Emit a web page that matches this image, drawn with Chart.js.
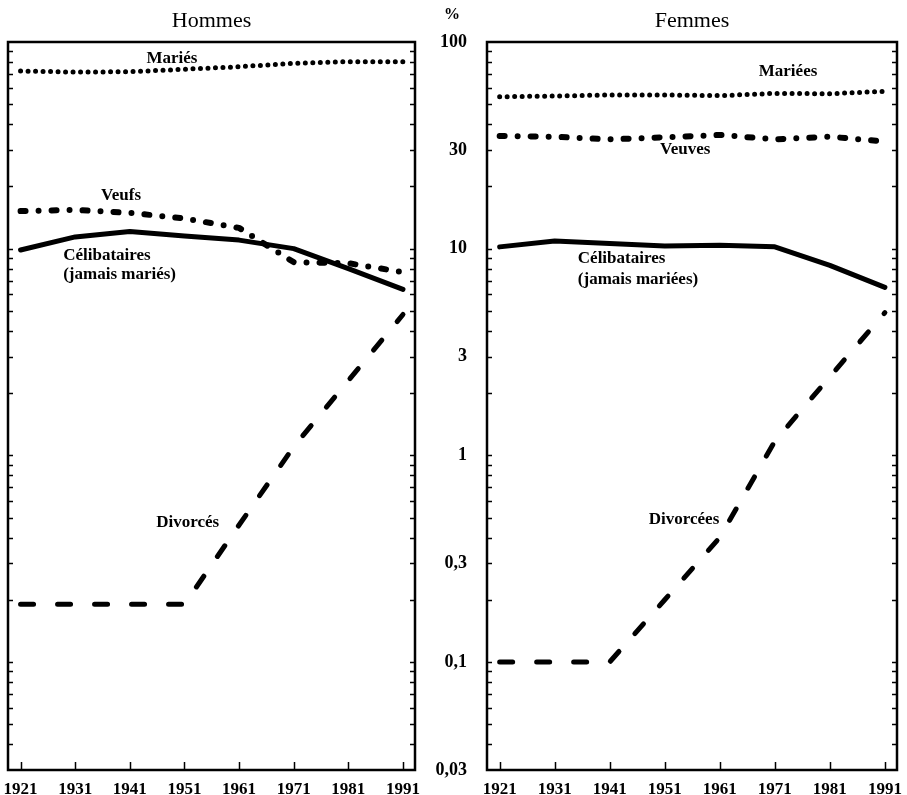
<!DOCTYPE html>
<html>
<head>
<meta charset="utf-8">
<title>Hommes / Femmes</title>
<script src="https://cdn.jsdelivr.net/npm/chart.js@4.4.0/dist/chart.umd.min.js"></script>
<style>
  html, body { margin: 0; padding: 0; background: #fff; }
  #wrap { position: relative; width: 907px; height: 795px; overflow: hidden; }
  #hommes { position: absolute; left: 0; top: 0; }
  #femmes { position: absolute; left: 425px; top: 0; }
</style>
</head>
<body>
<div id="wrap">
  <canvas id="hommes" width="440" height="795"></canvas>
  <canvas id="femmes" width="482" height="795"></canvas>
</div>
<script>
// Census years and the log-scale tick labels (%)
const years = [1921, 1931, 1941, 1951, 1961, 1971, 1981, 1991];
const yTickValues = [0.03, 0.1, 0.3, 1, 3, 10, 30, 100];
const yTickLabels = ['0,03', '0,1', '0,3', '1', '3', '10', '30', '100'];

// Hommes (%)
const hMaries    = [72.4, 71.5, 71.8, 73.8, 75.9, 78.9, 80.3, 80.3];
const hVeufs     = [15.2, 15.4, 14.9, 14.0, 12.6, 8.6, 8.5, 7.7];
const hCelib     = [9.85, 11.4, 12.1, 11.5, 11.0, 10.0, 8.0, 6.35];
const hDivorces  = [0.19, 0.19, 0.19, 0.19, 0.46, 1.1, 2.3, 4.8];

// Femmes (%)
const fMariees   = [54.3, 54.8, 55.4, 55.4, 55.0, 56.4, 56.2, 57.7];
const fVeuves    = [35.1, 34.8, 33.8, 34.6, 35.5, 33.8, 34.8, 33.0];
const fCelib     = [10.2, 10.9, 10.6, 10.3, 10.4, 10.2, 8.3, 6.5];
const fDivorcees = [0.1, 0.1, 0.1, 0.2, 0.40, 1.17, 2.4, 4.9];

const SERIF = "'Liberation Serif', 'Times New Roman', serif";

// line styles: dotted, dash-dot, solid, dashed
const styleMarie   = { borderWidth: 5,   borderDash: [0, 7.5],         borderCapStyle: 'round' };
const styleVeuf    = { borderWidth: 6,   borderDash: [5, 13, 0, 13],   borderCapStyle: 'round' };
const styleCelib   = { borderWidth: 5,   borderDash: [],               borderCapStyle: 'round' };
const styleDivorce = { borderWidth: 5,   borderDash: [13, 24],         borderCapStyle: 'round' };

function series(values, style) {
  return Object.assign({
    data: years.map((yr, i) => ({ x: yr, y: values[i] })),
    borderColor: '#000',
    backgroundColor: '#000',
    borderJoinStyle: 'round',
    pointRadius: 0,
    tension: 0,
    fill: false
  }, style);
}

// minor log ticks drawn inside the frame
const minorTicks = [];
[0.01, 0.1, 1, 10].forEach(d => {
  for (let m = 1; m <= 9; m++) {
    const v = +(d * m).toPrecision(3);
    if (v > 0.03 && v < 100) minorTicks.push(v);
  }
});

const frameAndLabels = {
  id: 'frameAndLabels',
  afterDatasetsDraw(chart, args, opts) {
    const { ctx, chartArea: a, scales: { x, y } } = chart;
    ctx.save();
    ctx.strokeStyle = '#000';
    ctx.lineWidth = 1.5;
    ctx.beginPath();
    minorTicks.forEach(v => {
      const py = Math.round(y.getPixelForValue(v)) + 0.5;
      ctx.moveTo(a.left, py);  ctx.lineTo(a.left + 5, py);
      ctx.moveTo(a.right, py); ctx.lineTo(a.right - 5, py);
    });
    years.forEach(yr => {
      const px = Math.round(x.getPixelForValue(yr)) + 0.5;
      ctx.moveTo(px, a.bottom); ctx.lineTo(px, a.bottom - 8);
    });
    ctx.stroke();
    ctx.lineWidth = 2.5;
    ctx.strokeRect(a.left, a.top, a.right - a.left, a.bottom - a.top);

    ctx.fillStyle = '#000';
    ctx.textBaseline = 'middle';
    (opts.labels || []).forEach(l => {
      ctx.font = 'bold 17px ' + SERIF;
      ctx.textAlign = l.align || 'center';
      ctx.fillText(l.text, x.getPixelForValue(l.year), y.getPixelForValue(l.value));
    });
    if (opts.unit) {
      ctx.font = 'bold 16px ' + SERIF;
      ctx.textAlign = 'center';
      ctx.fillText(opts.unit, a.left - 35, 15);
    }
    ctx.restore();
  }
};

function makeChart(id, title, data, labels, withAxis, padding) {
  return new Chart(document.getElementById(id), {
    type: 'line',
    data: { datasets: data },
    plugins: [frameAndLabels],
    options: {
      responsive: false,
      animation: false,
      devicePixelRatio: 1,
      layout: { padding },
      plugins: {
        legend: { display: false },
        tooltip: { enabled: false },
        title: {
          display: true,
          text: title,
          fullSize: false,
          color: '#000',
          font: { family: SERIF, size: 22, weight: 'normal', lineHeight: 1.2 },
          padding: { top: 8, bottom: 7.6 }
        },
        frameAndLabels: { labels, unit: withAxis ? '%' : null }
      },
      scales: {
        x: {
          type: 'linear',
          min: 1918.7,
          max: 1993.2,
          grid: { display: false, drawTicks: false },
          border: { display: false },
          afterBuildTicks: s => { s.ticks = years.map(v => ({ value: v })); },
          afterFit: s => { s.height = 25; s.paddingLeft = 0; s.paddingRight = 0; },
          ticks: {
            autoSkip: false,
            maxRotation: 0,
            padding: 9,
            color: '#000',
            font: { family: SERIF, size: 17, weight: 'bold' },
            callback: v => String(v)
          }
        },
        y: {
          type: 'logarithmic',
          min: 0.03,
          max: 100,
          display: withAxis,
          grid: { display: false, drawTicks: false },
          border: { display: false },
          afterBuildTicks: s => { s.ticks = yTickValues.map(v => ({ value: v })); },
          afterFit: s => { s.width = withAxis ? 62 : 0; s.paddingTop = 0; s.paddingBottom = 0; },
          ticks: {
            autoSkip: false,
            padding: 20,
            color: '#000',
            font: { family: SERIF, size: 18, weight: 'bold' },
            callback: v => yTickLabels[yTickValues.indexOf(v)]
          }
        }
      }
    }
  });
}

makeChart('hommes', 'Hommes', [
  series(hMaries, styleMarie),
  series(hVeufs, styleVeuf),
  series(hCelib, styleCelib),
  series(hDivorces, styleDivorce)
], [
  { text: 'Mariés', year: 1948.7, value: 82.7 },
  { text: 'Veufs', year: 1939.4, value: 18.0 },
  { text: 'Célibataires', year: 1928.8, value: 9.3, align: 'left' },
  { text: '(jamais mariés)', year: 1928.8, value: 7.45, align: 'left' },
  { text: 'Divorcés', year: 1951.6, value: 0.47 }
], false, { left: 8, right: 25, top: 0, bottom: 0 });

makeChart('femmes', 'Femmes', [
  series(fMariees, styleMarie),
  series(fVeuves, styleVeuf),
  series(fCelib, styleCelib),
  series(fDivorcees, styleDivorce)
], [
  { text: 'Mariées', year: 1973.4, value: 71.6 },
  { text: 'Veuves', year: 1954.7, value: 30.0 },
  { text: 'Célibataires', year: 1935.2, value: 8.91, align: 'left' },
  { text: '(jamais mariées)', year: 1935.2, value: 7.05, align: 'left' },
  { text: 'Divorcées', year: 1954.5, value: 0.49 }
], true, { left: 0, right: 10, top: 0, bottom: 0 });
</script>
</body>
</html>
